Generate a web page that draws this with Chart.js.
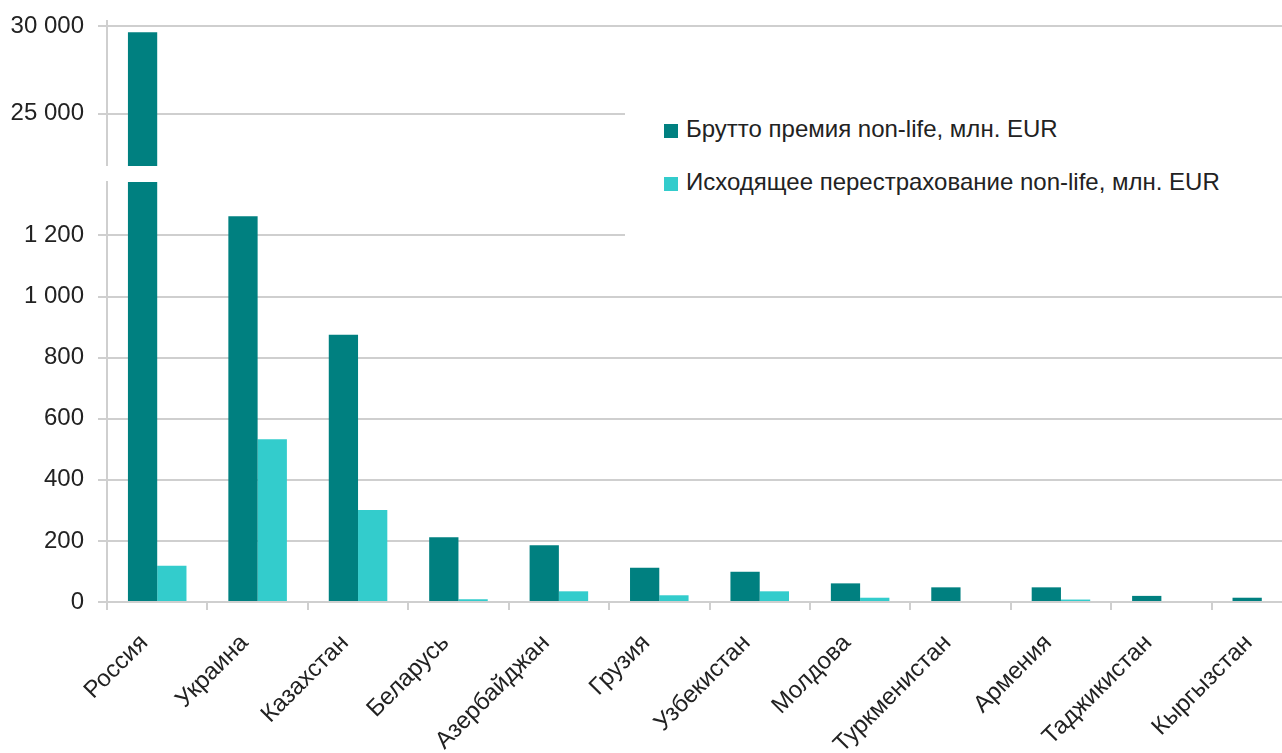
<!DOCTYPE html>
<html>
<head>
<meta charset="utf-8">
<script src="https://cdn.jsdelivr.net/npm/chart.js@4"></script>
<style>
    body { margin: 0; overflow: hidden; background: #fff; font-family: "Liberation Sans", Arial, sans-serif; }
    #wrap { position: relative; width: 1282px; height: 753px; overflow: hidden; }
    canvas { position: absolute; left: 0; top: 0; }
    #legend {
        position: absolute; left: 625px; top: 62px; width: 700px; height: 176px;
        background: #fff; color: #222; font-size: 24px;
    }
    .item { position: absolute; left: 39px; height: 24px; line-height: 24px; white-space: nowrap; }
    .item span { display: inline-block; width: 14px; height: 14px; margin-right: 8px; vertical-align: -1px; }
</style>
</head>
<body>
<div id="wrap">
    <canvas id="lowChart" width="1312" height="753"></canvas>
    <canvas id="topChart" width="1312" height="166"></canvas>
    <div id="legend"></div>
</div>
<script>
const countries = [
    "Россия",
    "Украина",
    "Казахстан",
    "Беларусь",
    "Азербайджан",
    "Грузия",
    "Узбекистан",
    "Молдова",
    "Туркменистан",
    "Армения",
    "Таджикистан",
    "Кыргызстан",
];
const grossPremium = [29650, 1263, 875, 212, 186, 112, 99, 61, 48, 48, 20, 14];
const cededPremium = [119, 533, 301, 9, 35, 22, 35, 14, 0, 8, 0, 0];
const seriesNames = [
    "Брутто премия non-life, млн. EUR",
    "Исходящее перестрахование non-life, млн. EUR",
];
const seriesColors = ["#008080", "#33cccc"];
const topTicks = [25000, 30000];
const lowTicks = [0, 200, 400, 600, 800, 1000, 1200];

const gridColor = "#cfcfcf";
const textColor = "#222222";
const font = { family: "'Liberation Sans', Arial, sans-serif", size: 24 };

const fmt = (v) => String(v).replace(/\B(?=(\d{3})+(?!\d))/g, " ");

const makeData = () => ({
    labels: countries,
    datasets: [grossPremium, cededPremium].map((d, i) => ({
        label: seriesNames[i],
        data: d,
        backgroundColor: seriesColors[i],
        borderWidth: 0,
        clip: 0,
        categoryPercentage: 0.583,
        barPercentage: 1,
    })),
});

const yScale = (min, max, ticks) => ({
    min: min,
    max: max,
    afterFit: (s) => {
        s.width = 107;
        s.paddingTop = 0;
        s.paddingBottom = 0;
    },
    afterBuildTicks: (s) => { s.ticks = ticks.map((v) => ({ value: v })); },
    ticks: { color: textColor, font: font, padding: 14, callback: (v) => fmt(v) },
    grid: { color: gridColor, lineWidth: 2, tickLength: 9 },
    border: { display: true, color: gridColor, width: 2 },
});

// upper part of the broken axis
new Chart(document.getElementById("topChart"), {
    type: "bar",
    data: makeData(),
    options: {
        responsive: false,
        animation: false,
        layout: { padding: { top: 21, right: 0, bottom: 0, left: 0 } },
        plugins: { legend: { display: false }, tooltip: { enabled: false } },
        scales: {
            x: { display: false },
            y: yScale(22000, 30300, topTicks),
        },
    },
});

// lower part with the category axis
new Chart(document.getElementById("lowChart"), {
    type: "bar",
    data: makeData(),
    options: {
        responsive: false,
        animation: false,
        layout: { padding: { top: 182, right: 0, bottom: 0, left: 0 } },
        plugins: { legend: { display: false }, tooltip: { enabled: false } },
        scales: {
            x: {
                afterFit: (s) => { s.height = 151; },
                ticks: {
                    color: textColor,
                    font: font,
                    autoSkip: false,
                    minRotation: 45,
                    maxRotation: 45,
                    padding: 19,
                    labelOffset: -13,
                },
                grid: { drawOnChartArea: false, color: gridColor, lineWidth: 2, tickLength: 8 },
                border: { display: true, color: gridColor, width: 2 },
            },
            y: yScale(0, 1375, lowTicks),
        },
    },
});

const legend = document.getElementById("legend");
seriesNames.forEach((name, i) => {
    const item = document.createElement("div");
    item.className = "item";
    item.style.top = (55 + i * 53) + "px";
    item.innerHTML = `<span style="background:${seriesColors[i]}"></span>${name}`;
    legend.appendChild(item);
});
</script>
</body>
</html>
